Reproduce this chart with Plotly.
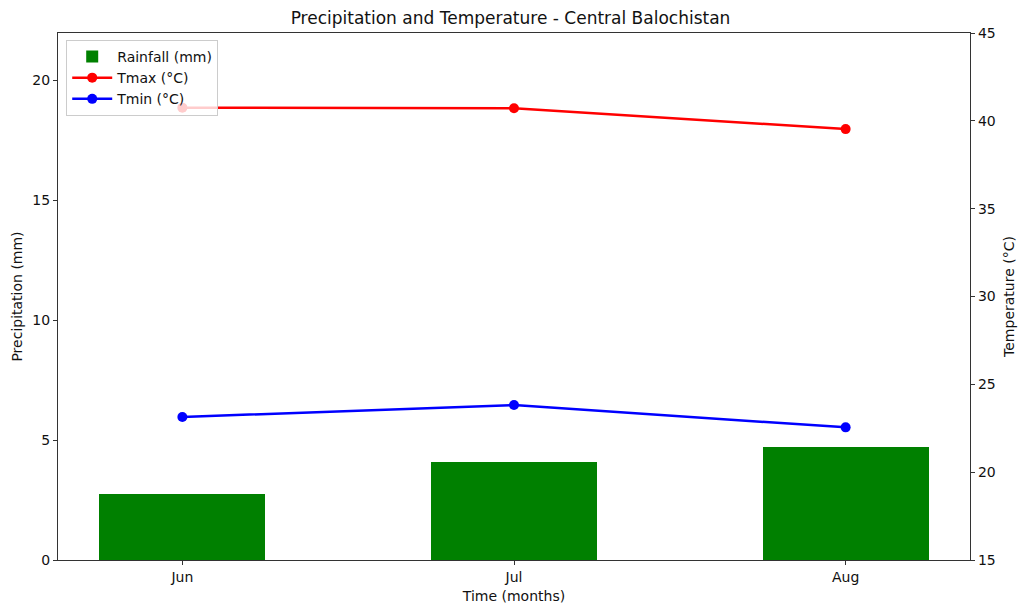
import plotly.graph_objects as go

months = ["Jun", "Jul", "Aug"]
rainfall = [2.75, 4.08, 4.72]
tmax = [40.75, 40.72, 39.53]
tmin = [23.14, 23.82, 22.55]

font = "DejaVu Sans"
fig = go.Figure()
fig.add_trace(go.Bar(x=months, y=rainfall, name="Rainfall (mm)", marker_color="green",
                     marker_line_width=0, width=0.5, yaxis="y"))
fig.add_trace(go.Scatter(x=months, y=tmax, name="Tmax (°C)", mode="lines+markers",
                         line=dict(color="red", width=2.5), marker=dict(size=10, color="red"), yaxis="y2"))
fig.add_trace(go.Scatter(x=months, y=tmin, name="Tmin (°C)", mode="lines+markers",
                         line=dict(color="blue", width=2.5), marker=dict(size=10, color="blue"), yaxis="y2"))

axis_common = dict(showline=True, linecolor="#333", linewidth=1.2, ticks="outside", ticklen=4,
                   tickcolor="#333", showgrid=False, zeroline=False, automargin=False,
                   tickfont=dict(family=font, size=14, color="#111"))

fig.update_layout(
    width=1021, height=605,
    margin=dict(l=58, r=51, t=33, b=45),
    paper_bgcolor="white", plot_bgcolor="white",
    font=dict(family=font, color="#111"),
    title=dict(text="Precipitation and Temperature - Central Balochistan", x=0.5, xanchor="center",
               y=1 - 18 / 605, yanchor="middle", font=dict(family=font, size=17, color="#111")),
    xaxis=dict(**axis_common, mirror=True, range=[-0.375, 2.375],
               title=dict(text="Time (months)", font=dict(family=font, size=14), standoff=7)),
    yaxis=dict(**axis_common, range=[0, 21.96], tickvals=[0, 5, 10, 15, 20],
               title=dict(text="Precipitation (mm)", font=dict(family=font, size=14), standoff=6)),
    yaxis2=dict(**axis_common, overlaying="y", side="right", range=[15, 45],
                tickvals=[15, 20, 25, 30, 35, 40, 45],
                title=dict(text="Temperature (°C)", font=dict(family=font, size=14), standoff=9)),
    legend=dict(x=0.009, y=0.987, xanchor="left", yanchor="top", bgcolor="rgba(255,255,255,0.8)",
                bordercolor="#ccc", borderwidth=1, font=dict(family=font, size=14), tracegroupgap=0,
                itemwidth=40),
    showlegend=True,
    bargap=0,
)
fig.write_html("out.html", config={"displayModeBar": False},
               post_script="document.body.style.margin='0';")
